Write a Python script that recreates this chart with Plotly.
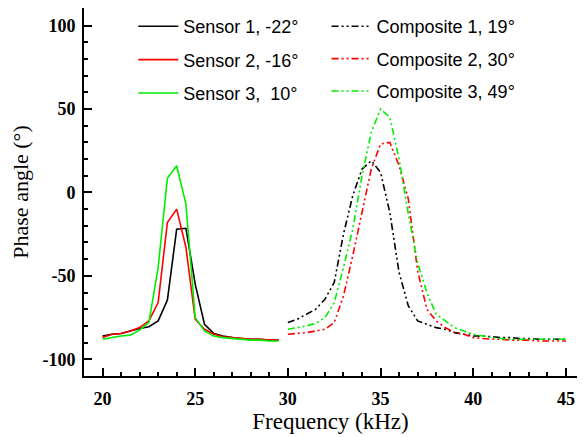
import plotly.graph_objects as go

# Sensor curves (20 - 29.5 kHz)
freq_sensor = [20, 20.5, 21, 21.5, 22, 22.5, 23, 23.5, 24, 24.5, 25, 25.5, 26, 26.5, 27, 27.5, 28, 28.5, 29, 29.5]
sensor1 = [-86, -85, -84.5, -83, -81.5, -80.5, -77, -64.5, -22, -21.5, -55, -79, -84.5, -86, -87, -87.5, -88, -88, -88.5, -88.5]
sensor2 = [-87, -85, -84.5, -83, -81, -77, -66, -18, -10, -33, -76, -82, -85, -86.5, -87, -87.5, -88, -88, -88.5, -88.5]
sensor3 = [-88, -87, -86, -85.5, -82.5, -78, -45, 8.5, 16, -7, -75, -83, -86, -87, -87.5, -88, -88.5, -88.5, -89, -89]

# Composite curves (30 - 45 kHz)
freq_comp = [30, 30.5, 31, 31.5, 32, 32.5, 33, 33.5, 34, 34.5, 35, 35.5, 36, 36.5, 37, 37.5, 38, 38.5,
             39, 39.5, 40, 40.5, 41, 41.5, 42, 42.5, 43, 43.5, 44, 44.5, 45]
comp1 = [-78, -76, -73, -70, -64, -54, -25, -2, 14, 19, 12, -12, -48, -68, -77, -79, -81, -82,
         -84, -85, -86, -86, -86.5, -87, -87, -87.5, -87.5, -88, -88, -88, -88]
comp2 = [-85, -84.5, -84, -83, -82, -78, -62, -38, -12, 14, 29, 30, 16, -4, -47, -70, -77, -81,
         -84, -85, -87, -87.5, -88, -88, -88.5, -88.5, -88.5, -89, -89, -89, -89]
comp3 = [-82, -81, -80, -78.5, -75, -66, -45, -22, 10, 36, 50, 45, 20, -13, -42, -60, -73, -77,
         -81, -83, -85, -86, -87, -87.5, -88, -88, -88, -88, -88, -88, -88]

x_tickvals = [20, 25, 30, 35, 40, 45]
x_ticktext = ["20", "25", "30", "35", "40", "45"]
y_tickvals = [-100, -50, 0, 50, 100]
y_ticktext = ["-100", "-50", "0", "50", "100"]

sensor_names = ["Sensor 1, -22°", "Sensor 2, -16°", "Sensor 3,\u00a0 10°"]
comp_names = ["Composite 1, 19°", "Composite 2, 30°", "Composite 3, 49°"]
colors = ["#000000", "#ff0000", "#00ee00"]
dashdotdot = "7px,3px,2px,3px,2px,3px"

fig = go.Figure()
for i, (name, ys) in enumerate(zip(sensor_names, [sensor1, sensor2, sensor3])):
    fig.add_trace(go.Scatter(x=freq_sensor, y=ys, mode="lines", name=name,
                             line=dict(color=colors[i], width=1.6),
                             legend="legend", legendgroup=f"s{i}"))
for i, (name, ys) in enumerate(zip(comp_names, [comp1, comp2, comp3])):
    fig.add_trace(go.Scatter(x=freq_comp, y=ys, mode="lines", name=name,
                             line=dict(color=colors[i], width=1.6, dash=dashdotdot),
                             legend="legend2", legendgroup=f"c{i}"))

tickfont = dict(family="Liberation Serif", size=18, color="black", weight="bold")
legfont = dict(family="Liberation Sans", size=18, color="black")

# page body has an 8px margin, so the figure is sized to fit inside the 585x437 window
fig.update_layout(
    width=577, height=429,
    margin=dict(l=76, r=8, t=0, b=61),
    paper_bgcolor="white", plot_bgcolor="white",
    xaxis=dict(range=[19, 45.6], tickvals=x_tickvals, ticktext=x_ticktext, ticks="inside", ticklen=8, tickwidth=1.5,
               tickcolor="black", showline=True, linewidth=2, linecolor="black", mirror=True,
               showgrid=False, zeroline=False, tickfont=tickfont, automargin=False, ticklabelstandoff=5,
               minor=dict(dtick=1, ticks="inside", ticklen=4, tickwidth=1.5, tickcolor="black"),
               title=dict(text="Frequency (kHz)", font=dict(family="Liberation Serif", size=23, color="black"),
                          standoff=4)),
    yaxis=dict(range=[-110, 110.5], tickvals=y_tickvals, ticktext=y_ticktext, ticks="inside", ticklen=8, tickwidth=1.5,
               tickcolor="black", showline=True, linewidth=2, linecolor="black", mirror=True,
               showgrid=False, zeroline=False, tickfont=tickfont, automargin=False, ticklabelstandoff=3,
               minor=dict(dtick=10, ticks="inside", ticklen=4, tickwidth=1.5, tickcolor="black"),
               title=dict(text="Phase angle (°)", font=dict(family="Liberation Serif", size=22, color="black"),
                          standoff=8)),
    legend=dict(x=0.10, y=1.0, xanchor="left", yanchor="top", font=legfont, bgcolor="rgba(0,0,0,0)",
                tracegroupgap=7, itemwidth=40),
    legend2=dict(x=0.492, y=1.0, xanchor="left", yanchor="top", font=legfont, bgcolor="rgba(0,0,0,0)",
                 tracegroupgap=6, itemwidth=40),
)

fig.write_html("out.html")
